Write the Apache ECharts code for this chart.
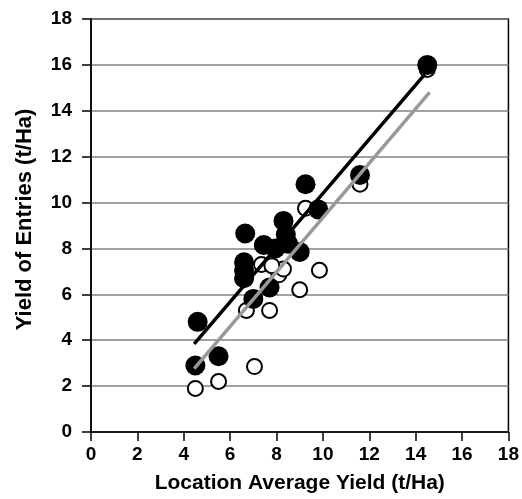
<!DOCTYPE html>
<html><head><meta charset="utf-8">
<script src="https://cdn.jsdelivr.net/npm/echarts@6/dist/echarts.min.js"></script>
<style>html,body{margin:0;padding:0;background:#fff}#c{width:522px;height:499px}</style>
</head><body><div id="c"></div>
<script>
const xTicks = [0, 2, 4, 6, 8, 10, 12, 14, 16, 18];
const yTicks = [0, 2, 4, 6, 8, 10, 12, 14, 16, 18];
const filledPoints = [
  [4.5, 2.9], [4.6, 4.8], [5.5, 3.3], [6.65, 8.65], [6.6, 7.4], [6.6, 7.05], [6.6, 6.7],
  [7.0, 5.8], [7.45, 8.15], [7.95, 8.0], [8.3, 9.2], [8.4, 8.6], [8.5, 8.2], [7.7, 6.3],
  [9.0, 7.85], [9.25, 10.8], [9.8, 9.7], [11.6, 11.2], [14.5, 16.0]
];
const openPoints = [
  [4.5, 1.9], [5.5, 2.2], [7.05, 2.85], [6.7, 5.3], [7.7, 5.3], [9.0, 6.2], [9.85, 7.05],
  [8.1, 6.85], [8.3, 7.1], [7.35, 7.3], [7.8, 7.25], [9.25, 9.75], [11.6, 10.8], [14.5, 15.8]
];
const blackLine = [[4.45, 3.84], [14.4, 15.6]];
const grayLine = [[4.45, 2.76], [14.6, 14.8]];

const font = 'Liberation Sans, Arial, sans-serif';
const chart = echarts.init(document.getElementById('c'));
chart.setOption({
  animation: false,
  grid: { left: 91, right: 10, top: 19, bottom: 63, show: true, borderColor: '#000', borderWidth: 1.5 },
  xAxis: {
    type: 'value', min: xTicks[0], max: xTicks[xTicks.length - 1], interval: 2,
    name: 'Location Average Yield (t/Ha)', nameLocation: 'middle', nameGap: 41,
    nameTextStyle: { fontFamily: font, fontWeight: 'bold', fontSize: 21, color: '#000' },
    axisLine: { onZero: false, lineStyle: { color: '#000', width: 1.5 } },
    axisTick: { inside: false, length: 9, lineStyle: { color: '#000', width: 1.5 } },
    axisLabel: { margin: 13, fontFamily: font, fontWeight: 'bold', fontSize: 19, color: '#000' },
    splitLine: { show: false }
  },
  yAxis: {
    type: 'value', min: yTicks[0], max: yTicks[yTicks.length - 1], interval: 2,
    name: 'Yield of Entries (t/Ha)', nameLocation: 'middle', nameGap: 55,
    nameTextStyle: { fontFamily: font, fontWeight: 'bold', fontSize: 22, color: '#000', padding: [0, 0, 0, 12] },
    axisLine: { onZero: false, lineStyle: { color: '#000', width: 1.5 } },
    axisTick: { inside: false, length: 9, lineStyle: { color: '#000', width: 1.5 } },
    axisLabel: { margin: 19, fontFamily: font, fontWeight: 'bold', fontSize: 19, color: '#000' },
    splitLine: { show: true, lineStyle: { color: '#808080', width: 1.5 } }
  },
  series: [
    { type: 'scatter', data: openPoints, symbol: 'circle', symbolSize: 15, z: 2,
      itemStyle: { color: '#fff', borderColor: '#000', borderWidth: 2, opacity: 1 } },
    { type: 'scatter', data: filledPoints, symbol: 'circle', symbolSize: 20, z: 3,
      itemStyle: { color: '#000', opacity: 1 } },
    { type: 'line', data: grayLine, showSymbol: false, symbol: 'none', z: 4,
      lineStyle: { color: '#999', width: 3.5 } },
    { type: 'line', data: blackLine, showSymbol: false, symbol: 'none', z: 5,
      lineStyle: { color: '#000', width: 3.5 } }
  ]
});
</script></body></html>
